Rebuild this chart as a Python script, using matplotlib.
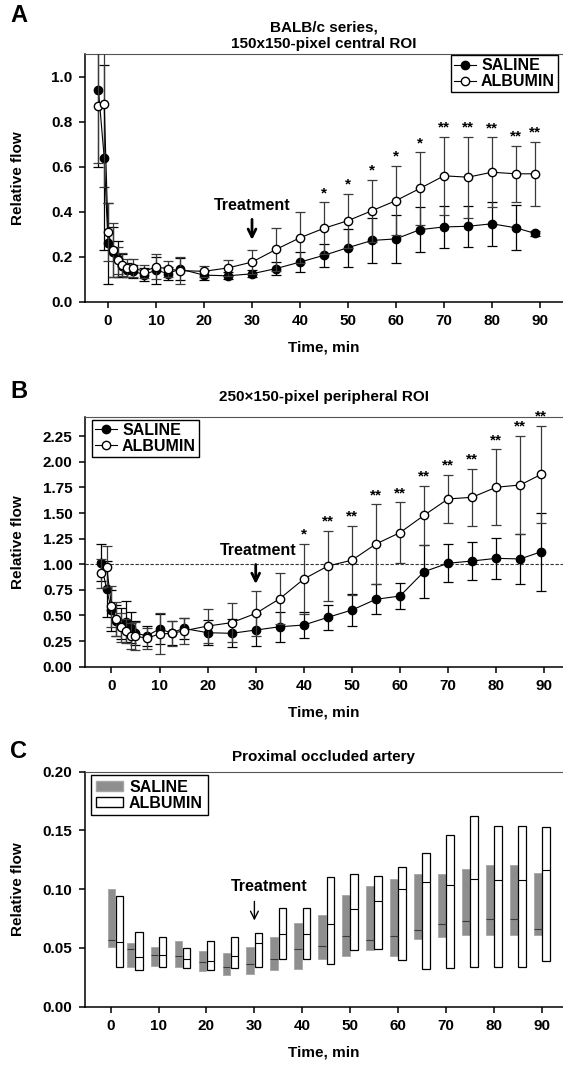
import numpy as np
import matplotlib
matplotlib.use('Agg')
import matplotlib.pyplot as plt
from matplotlib.patches import Patch
from matplotlib.lines import Line2D

plt.rcParams['font.family'] = ['Liberation Sans', 'DejaVu Sans']
plt.rcParams['font.weight'] = 'bold'
plt.rcParams['axes.labelweight'] = 'bold'
plt.rcParams['axes.titleweight'] = 'bold'

# ---- panel A: BALB/c, central ROI
a_t = [-2, -0.8, 0, 1, 2, 3, 4, 5.3, 7.5, 10, 12.5, 15, 20, 25, 30, 35, 40, 45, 50,
       55, 60, 65, 70, 75, 80, 85, 89]
a_saline = [0.94, 0.64, 0.26, 0.22, 0.19, 0.16, 0.14, 0.135, 0.12, 0.14, 0.125, 0.145,
            0.118, 0.115, 0.124, 0.147, 0.176, 0.206, 0.24, 0.272, 0.279, 0.32, 0.332,
            0.335, 0.346, 0.328, 0.303]
a_saline_err = [0.34, 0.41, 0.18, 0.11, 0.08, 0.05, 0.03, 0.03, 0.03, 0.06, 0.03, 0.05,
                0.02, 0.015, 0.015, 0.03, 0.046, 0.05, 0.084, 0.1, 0.108, 0.1, 0.095,
                0.09, 0.097, 0.1, 0.01]
a_albumin = [0.867, 0.878, 0.31, 0.23, 0.185, 0.165, 0.15, 0.15, 0.134, 0.155, 0.145,
             0.138, 0.135, 0.15, 0.176, 0.232, 0.284, 0.326, 0.36, 0.404, 0.449, 0.503,
             0.559, 0.553, 0.575, 0.568, 0.568]
a_albumin_err = [0.25, 0.37, 0.13, 0.12, 0.06, 0.05, 0.04, 0.04, 0.03, 0.055, 0.035, 0.06,
                 0.025, 0.035, 0.053, 0.094, 0.113, 0.115, 0.12, 0.137, 0.155, 0.161,
                 0.174, 0.18, 0.155, 0.125, 0.143]
a_star_t = [45, 50, 55, 60, 65, 70, 75, 80, 85, 89]
a_star_txt = ['*', '*', '*', '*', '*', '**', '**', '**', '**', '**']

# ---- panel B: peripheral ROI
b_t = [-2.2, -1, 0, 1, 2, 3, 4, 5, 7.3, 10, 12.5, 15, 20, 25, 30, 35, 40, 45, 50, 55,
       60, 65, 70, 75, 80, 85, 89.4]
b_saline = [1.016, 0.758, 0.55, 0.45, 0.42, 0.44, 0.38, 0.33, 0.30, 0.368, 0.33, 0.374,
            0.332, 0.326, 0.358, 0.39, 0.407, 0.482, 0.553, 0.658, 0.69, 0.928, 1.01,
            1.032, 1.058, 1.052, 1.123]
b_saline_err = [0.18, 0.27, 0.2, 0.15, 0.15, 0.2, 0.15, 0.12, 0.1, 0.15, 0.12, 0.1,
                0.12, 0.136, 0.16, 0.146, 0.124, 0.124, 0.156, 0.147, 0.13, 0.26, 0.186,
                0.186, 0.2, 0.24, 0.38]
b_albumin = [0.911, 0.977, 0.592, 0.466, 0.384, 0.35, 0.30, 0.30, 0.277, 0.32, 0.325,
             0.35, 0.397, 0.43, 0.52, 0.664, 0.856, 0.983, 1.04, 1.198, 1.309, 1.478,
             1.638, 1.654, 1.752, 1.774, 1.879]
b_albumin_err = [0.14, 0.2, 0.2, 0.17, 0.14, 0.12, 0.13, 0.14, 0.1, 0.2, 0.12, 0.13,
                 0.163, 0.19, 0.22, 0.25, 0.345, 0.345, 0.337, 0.388, 0.296, 0.29,
                 0.237, 0.276, 0.37, 0.482, 0.474]
b_star_t = [40, 45, 50, 55, 60, 65, 70, 75, 80, 85, 89.4]
b_star_txt = ['*'] + ['**'] * 10

# ---- panel C: proximal occluded artery (range boxes with median)
c_t = [1, 5, 10, 15, 20, 25, 30, 35, 40, 45, 50, 55, 60, 65, 70, 75, 80, 85, 90]
c_saline_low = [0.051, 0.034, 0.035, 0.034, 0.030, 0.027, 0.028, 0.031, 0.032, 0.041,
                0.043, 0.048, 0.043, 0.058, 0.059, 0.061, 0.061, 0.061, 0.061]
c_saline_high = [0.100, 0.054, 0.051, 0.056, 0.047, 0.046, 0.051, 0.059, 0.071, 0.078,
                 0.095, 0.103, 0.109, 0.113, 0.113, 0.117, 0.121, 0.121, 0.114]
c_saline_med = [0.057, 0.049, 0.044, 0.043, 0.038, 0.034, 0.036, 0.041, 0.049, 0.052,
                0.060, 0.057, 0.060, 0.065, 0.070, 0.073, 0.075, 0.075, 0.066]
c_albumin_low = [0.034, 0.031, 0.034, 0.033, 0.031, 0.033, 0.034, 0.041, 0.041, 0.036,
                 0.048, 0.049, 0.040, 0.032, 0.033, 0.034, 0.034, 0.034, 0.039]
c_albumin_high = [0.094, 0.064, 0.059, 0.050, 0.056, 0.059, 0.063, 0.084, 0.084, 0.110,
                  0.113, 0.111, 0.119, 0.131, 0.146, 0.162, 0.154, 0.154, 0.153]
c_albumin_med = [0.055, 0.042, 0.044, 0.041, 0.039, 0.043, 0.054, 0.062, 0.062, 0.070,
                 0.083, 0.090, 0.100, 0.106, 0.104, 0.109, 0.108, 0.108, 0.116]

W, H = 563, 1066
FS = 11
fig = plt.figure(figsize=(W / 100, H / 100), dpi=100)


def make_ax(left, top, bottom):
    ax = fig.add_axes([left / W, 1 - bottom / H, 1 - left / W, (bottom - top) / H])
    ax.spines['right'].set_visible(False)
    ax.spines['top'].set_color('#555555')
    ax.spines['top'].set_linewidth(0.8)
    ax.spines['left'].set_linewidth(1.1)
    ax.spines['bottom'].set_linewidth(1.1)
    ax.tick_params(direction='out', length=4, width=1.1, labelsize=FS, pad=5)
    ax.set_xticks(range(0, 91, 10))
    ax.set_xlabel('Time, min', fontsize=FS, labelpad=9)
    ax.set_ylabel('Relative flow', fontsize=FS)
    return ax


def plot_series(ax, t, sal, sal_e, alb, alb_e):
    ax.errorbar(t, sal, yerr=sal_e, fmt='o-', color='black', mfc='black', mec='black',
                ms=6, lw=0.8, elinewidth=0.9, capsize=3.5, capthick=0.9, zorder=3)
    ax.errorbar(t, alb, yerr=alb_e, fmt='o-', color='black', ecolor='#3a3a3a', mfc='white',
                mec='black', ms=6, lw=0.8, elinewidth=0.9, capsize=3.5, capthick=0.9,
                zorder=4)


def line_legend(ax, loc, anchor):
    handles = [Line2D([], [], marker='o', color='black', mfc='black', ms=6, lw=0.8,
                      label='SALINE'),
               Line2D([], [], marker='o', color='black', mfc='white', ms=6, lw=0.8,
                      label='ALBUMIN')]
    ax.legend(handles=handles, loc=loc, bbox_to_anchor=anchor, fontsize=11.5,
              frameon=True, fancybox=False, edgecolor='black', framealpha=1,
              handlelength=1.4, handletextpad=0.3, borderpad=0.2, labelspacing=0.05,
              borderaxespad=0)


def add_stars(ax, t, alb, alb_e, star_t, star_txt, size=11):
    for st, s in zip(star_t, star_txt):
        i = t.index(st)
        ax.annotate(s, (st, alb[i] + alb_e[i]), xytext=(0, 1.5), textcoords='offset points',
                    ha='center', va='bottom', fontsize=size)


def treatment(ax, x_text, y_text, y0, y1, lw=2.0):
    ax.text(x_text, y_text, 'Treatment', ha='center', va='center', fontsize=11.5)
    ax.annotate('', xy=(30, y1), xytext=(30, y0),
                arrowprops=dict(arrowstyle='->', lw=lw, color='black', mutation_scale=14))


# A
axA = make_ax(85, 54, 301.7)
plot_series(axA, a_t, a_saline, a_saline_err, a_albumin, a_albumin_err)
add_stars(axA, a_t, a_albumin, a_albumin_err, a_star_t, a_star_txt)
treatment(axA, 30, 0.425, 0.378, 0.262)
axA.set_xlim(-4.8, 94.8)
axA.set_ylim(0, 1.1)
axA.set_yticks(np.arange(0, 1.01, 0.2))
axA.set_yticklabels([f'{v:.1f}' for v in np.arange(0, 1.01, 0.2)])
axA.set_title('BALB/c series,\n150x150-pixel central ROI', fontsize=FS, pad=4,
              linespacing=1.3)
line_legend(axA, 'upper right', (0.99, 0.995))

# B
axB = make_ax(85, 417.3, 666.7)
axB.axhline(1.0, ls=(0, (3, 1.5)), lw=0.8, color='#333333', zorder=1)
plot_series(axB, b_t, b_saline, b_saline_err, b_albumin, b_albumin_err)
add_stars(axB, b_t, b_albumin, b_albumin_err, b_star_t, b_star_txt)
treatment(axB, 30.5, 1.133, 1.025, 0.78)
axB.set_xlim(-5.5, 93.9)
axB.set_ylim(0, 2.435)
axB.set_yticks(np.arange(0, 2.26, 0.25))
axB.set_yticklabels([f'{v:.2f}' for v in np.arange(0, 2.26, 0.25)])
axB.set_title('250\u00d7150-pixel peripheral ROI', fontsize=FS, pad=12)
line_legend(axB, 'upper left', (0.014, 0.99))

# C
axC = make_ax(85, 771.7, 1006.7)
ct = np.array(c_t, dtype=float)
sl, sh = np.array(c_saline_low), np.array(c_saline_high)
al, ah = np.array(c_albumin_low), np.array(c_albumin_high)
axC.bar(ct - 0.85, sh - sl, bottom=sl, width=1.6, color='#8e8e8e', edgecolor='#a5a5a5',
        lw=0.6, zorder=2)
axC.bar(ct + 0.85, ah - al, bottom=al, width=1.6, color='white', edgecolor='black',
        lw=0.9, zorder=3)
axC.hlines(c_saline_med, ct - 1.65, ct - 0.05, color='#3a3a3a', lw=0.8, zorder=3)
axC.hlines(c_albumin_med, ct + 0.05, ct + 1.65, color='black', lw=0.8, zorder=4)
treatment(axC, 33, 0.102, 0.092, 0.071, lw=1.0)
axC.set_xlim(-5.35, 94.4)
axC.set_ylim(0, 0.2)
axC.set_yticks(np.arange(0, 0.201, 0.05))
axC.set_yticklabels([f'{v:.2f}' for v in np.arange(0, 0.201, 0.05)])
axC.set_title('Proximal occluded artery', fontsize=FS, pad=8)
axC.legend(handles=[Patch(facecolor='#8e8e8e', edgecolor='#a5a5a5', label='SALINE'),
                    Patch(facecolor='white', edgecolor='black', label='ALBUMIN')],
           loc='upper left', bbox_to_anchor=(0.012, 0.986), fontsize=11.5, frameon=True,
           fancybox=False, edgecolor='black', framealpha=1, handlelength=1.7,
           handleheight=0.6, handletextpad=0.4, borderpad=0.3, labelspacing=0.05,
           borderaxespad=0)

for ax in (axA, axB, axC):
    ax.yaxis.set_label_coords(-0.125, 0.5)

fig.text(0.018, 1 - 16 / H, 'A', fontsize=17, va='center')
fig.text(0.018, 1 - 391 / H, 'B', fontsize=17, va='center')
fig.text(0.018, 1 - 751 / H, 'C', fontsize=17, va='center')

fig.savefig('out.png', dpi=100)
